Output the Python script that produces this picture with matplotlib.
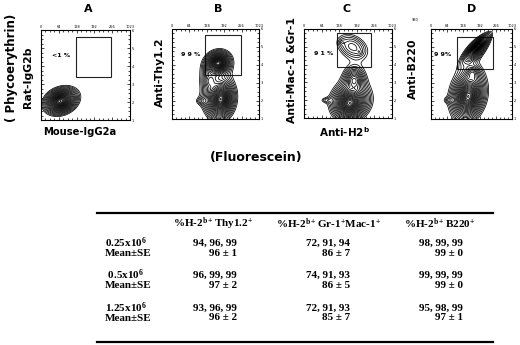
import numpy as np
import matplotlib
matplotlib.use('Agg')
import matplotlib.pyplot as plt
from matplotlib.patches import Rectangle
from matplotlib.lines import Line2D

plt.rcParams['mathtext.fontset'] = 'custom'
plt.rcParams['mathtext.rm'] = 'Liberation Serif:bold'
plt.rcParams['mathtext.sf'] = 'DejaVu Sans:bold'
plt.rcParams['mathtext.default'] = 'rm'

# ---------------- data ----------------
panel_letters = ['A', 'B', 'C', 'D']
y_labels = ['Rat-IgG2b', 'Anti-Thy1.2', 'Anti-Mac-1 &Gr-1', 'Anti-B220']
x_labels = ['Mouse-IgG2a', '', 'Anti-H2$^{\\mathsf{b}}$', '']
gate_pct = ['<1 %', '9 9 %', '9 1 %', '9 9%']
# gates: x0, x1, y0, y1 (channel units 0-100)
gates = [(39, 79, 48, 92), (38, 79, 49, 93), (38, 76, 57, 96), (32, 77, 55, 91)]
# populations: x centre, y centre, x sd, y sd, correlation, weight
pop_A = [(22, 21, 4.0, 3.2, 0.2, 1.0), (25, 22, 6.5, 5.0, 0.3, 0.05)]
pop_B = [(53, 62, 3.3, 3.0, 0.1, 0.9), (50, 58, 6.0, 6.0, 0.2, 0.05),
         (56, 22, 3.5, 5.0, 0.1, 1.0), (52, 24, 7.0, 8.0, 0.0, 0.06),
         (36, 20, 6.0, 3.0, 0.0, 0.007), (44, 42, 5.0, 6.0, 0.0, 0.025)]
pop_C = [(43, 85, 2.5, 2.5, 0.0, 0.004), (63, 74, 2.5, 2.5, 0.0, 0.004),
         (55, 80, 12.0, 10.0, -0.3, 0.015), (57, 42, 5.5, 7.0, 0.0, 0.06),
         (52, 17, 4.5, 4.5, 0.1, 1.0), (55, 22, 8.0, 7.0, 0.0, 0.05),
         (26, 20, 6.0, 2.5, 0.0, 0.005)]
pop_D = [(57, 80, 3.5, 3.2, 0.85, 0.7), (55, 76, 8.0, 8.0, 0.7, 0.04),
         (46, 25, 4.5, 6.0, 0.2, 1.0), (45, 28, 8.0, 9.0, 0.1, 0.05),
         (24, 21, 6.0, 2.5, 0.0, 0.006), (51, 50, 5.0, 5.0, 0.0, 0.03)]
populations = [pop_A, pop_B, pop_C, pop_D]

col_headers = ['%H-2$^{b+}$Thy1.2$^{+}$', '%H-2$^{b+}$Gr-1$^{+}$Mac-1$^{+}$',
               '%H-2$^{b+}$B220$^{+}$']
doses = ['0.25x10$^{6}$', ' 0.5x10$^{6}$', '1.25x10$^{6}$']
thy_values = ['94, 96, 99', '96, 99, 99', '93, 96, 99']
thy_mean = ['96 \u00b1 1', '97 \u00b1 2', '96 \u00b1 2']
mac_values = ['72, 91, 94', '74, 91, 93', '72, 91, 93']
mac_mean = ['86 \u00b1 7', '86 \u00b1 5', '85 \u00b1 7']
b220_values = ['98, 99, 99', '99, 99, 99', '95, 98, 99']
b220_mean = ['99 \u00b1 0', '99 \u00b1 0', '97 \u00b1 1']

# ---------------- figure ----------------
W, H = 520, 345
fig = plt.figure(figsize=(W / 100, H / 100), dpi=100)
over = fig.add_axes([0, 0, 1, 1])
over.set_xlim(0, W)
over.set_ylim(H, 0)
over.axis('off')


def rect(l, r, t, b):
    return [l / W, 1 - b / H, (r - l) / W, (b - t) / H]


boxes = [(41, 130, 30, 120), (172, 259, 29, 119), (304, 392, 29, 118), (431, 512, 29, 119)]
letter_x = [88, 218, 347, 472]
g = np.linspace(0, 100, 400)
X, Y = np.meshgrid(g, g)
nu = 2.5

for i, (l, r, t, b) in enumerate(boxes):
    ax = fig.add_axes(rect(l, r, t, b))
    Z = np.zeros_like(X)
    for (cx, cy, sx, sy, rho, w) in populations[i]:
        dx = (X - cx) / sx
        dy = (Y - cy) / sy
        q = (dx ** 2 - 2 * rho * dx * dy + dy ** 2) / (1 - rho ** 2)
        Z += w * (1 + q / nu) ** (-(nu + 2) / 2)
    Z /= Z.max()
    levels = np.geomspace(0.004, 0.97, 24)
    ax.contour(X, Y, Z, levels=levels, colors='black', linewidths=0.55)
    x0, x1, y0, y1 = gates[i]
    ax.add_patch(Rectangle((x0, y0), x1 - x0, y1 - y0, fill=False,
                           ec='#222222', lw=0.8))
    ax.text(x0 - 16 if i != 3 else 14, 72, gate_pct[i], fontsize=4.5,
            fontweight='bold', ha='center', va='center')
    ax.set_xlim(0, 100)
    ax.set_ylim(0, 100)
    ax.set_xticks(np.arange(0, 101, 20))
    ax.set_xticks(np.arange(0, 101, 5), minor=True)
    ax.set_yticks(np.arange(0, 101, 20))
    ax.set_yticks(np.arange(0, 101, 5), minor=True)
    ax.set_xticklabels(['0', '64', '128', '192', '256', '1023'])
    ax.set_yticklabels(['1', '2', '3', '4', '5', '6'])
    ax.tick_params(which='both', direction='in', top=True, right=True,
                   width=0.5, labelsize=2.5, pad=1,
                   labeltop=True, labelbottom=False, labelleft=False, labelright=True)
    ax.tick_params(which='major', length=2.5)
    ax.tick_params(which='minor', length=1.2)
    for s in ax.spines.values():
        s.set_linewidth(0.8)
    over.text(letter_x[i], 9, panel_letters[i], fontsize=8, fontweight='bold',
              ha='center', va='center')

# y labels
ylab_pos = [(28, 77), (160, 72), (292, 70), (413, 69)]
for (x, y), s in zip(ylab_pos, y_labels):
    over.text(x, y, s, rotation=90, fontsize=7.8, fontweight='bold',
              ha='center', va='center')
over.text(80, 132, x_labels[0], fontsize=7.2, fontweight='bold', ha='center', va='center')
over.text(345, 132, x_labels[2], fontsize=7.5, fontweight='bold', ha='center', va='center')
over.text(415, 20, '990', fontsize=2.5, ha='center', va='center')

over.text(12, 68, '( Phycoerythrin)', rotation=90, fontsize=8.5, fontweight='bold',
          ha='center', va='center')
over.text(256, 157, '(Fluorescein)', fontsize=9, fontweight='bold',
          ha='center', va='center')

# ---------------- table ----------------
over.add_line(Line2D([97, 493], [212.5, 212.5], color='black', lw=1.6))
over.add_line(Line2D([97, 493], [342, 342], color='black', lw=1.6))
tf = dict(family='Liberation Serif', fontweight='bold', fontsize=8)
for xc, s in zip([213, 329, 440], col_headers):
    over.text(xc, 224, s, ha='center', va='center', **tf)
row_y = [243, 275, 308]
cols = [(237, thy_values, thy_mean), (350, mac_values, mac_mean), (463, b220_values, b220_mean)]
for k, y in enumerate(row_y):
    over.text(105, y - 0.5, doses[k], ha='left', va='center', **tf)
    over.text(105, y + 10.5, 'Mean\u00b1SE', ha='left', va='center', **tf)
    for xr, vals, means in cols:
        over.text(xr, y, vals[k], ha='right', va='center', **tf)
        over.text(xr, y + 10, means[k], ha='right', va='center', **tf)

fig.savefig('out.png', dpi=100)
